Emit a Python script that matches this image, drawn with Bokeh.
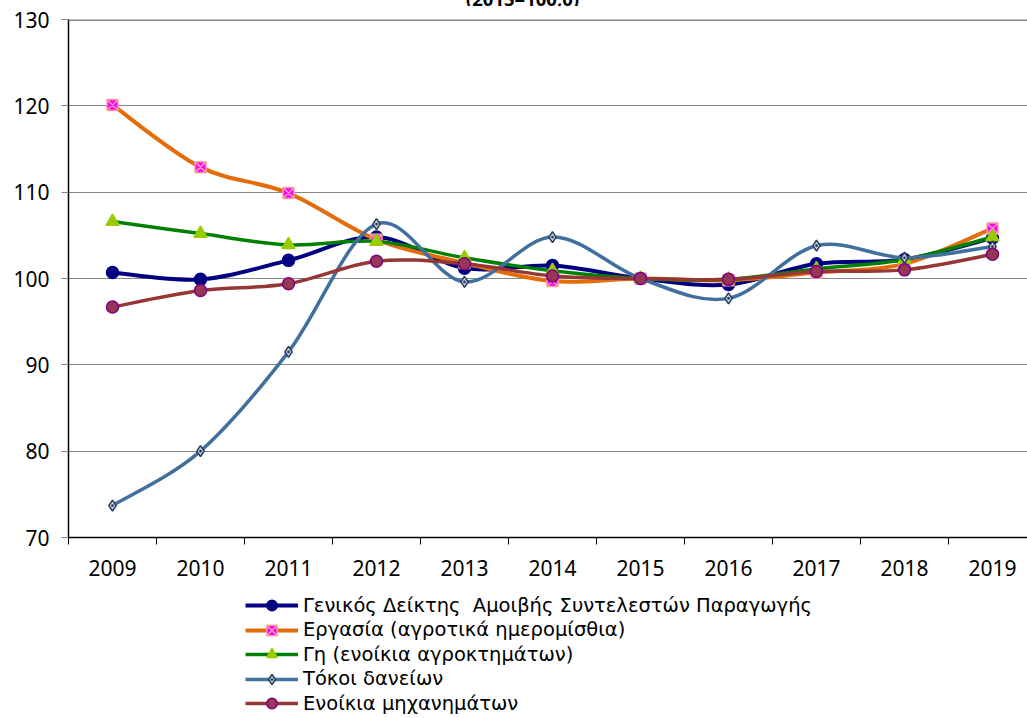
from bokeh.plotting import figure
from bokeh.layouts import column
from bokeh.models import FixedTicker, Legend, LegendItem, Range1d, Span, ColumnDataSource, Div
from bokeh.embed import file_html
from bokeh.resources import INLINE

# ---------------- data ----------------
years = [2009, 2010, 2011, 2012, 2013, 2014, 2015, 2016, 2017, 2018, 2019]
general = [100.7, 99.9, 102.1, 104.8, 101.2, 101.5, 100.0, 99.3, 101.7, 102.2, 104.7]
labour = [120.1, 112.9, 109.9, 104.5, 101.8, 99.7, 100.0, 99.8, 100.7, 101.7, 105.8]
land = [106.6, 105.2, 103.9, 104.3, 102.4, 100.9, 100.0, 99.9, 101.1, 102.2, 104.8]
interest = [73.7, 80.0, 91.5, 106.3, 99.6, 104.8, 100.0, 97.7, 103.8, 102.4, 103.7]
machinery = [96.7, 98.6, 99.4, 102.0, 101.7, 100.3, 100.0, 99.9, 100.8, 101.0, 102.8]
y_ticks = [70, 80, 90, 100, 110, 120, 130]
names = [
    "Γενικός Δείκτης  Αμοιβής Συντελεστών Παραγωγής",
    "Εργασία (αγροτικά ημερομίσθια)",
    "Γη (ενοίκια αγροκτημάτων)",
    "Τόκοι δανείων",
    "Ενοίκια μηχανημάτων",
]
title_tail = "(2015=100,0)"

FONT = "Noto Sans"
LEG_FONT = "DejaVu Sans"
W = 1027

# clipped tail of the title (only its lower part is visible in the original)
title_div = Div(
    text=(f'<div style="position:relative; top:-14px; width:{W}px; text-align:center; '
          f'padding-left:18px; box-sizing:border-box; font-family:\'{FONT}\'; '
          f'font-weight:bold; font-size:18.5px; color:black; white-space:nowrap;">{title_tail}</div>'),
    width=W, height=6, styles={"overflow": "hidden", "margin": "0", "padding": "0"})

p = figure(width=W, height=579, output_backend="svg", toolbar_location=None,
           x_range=Range1d(years[0] - 0.5, years[0] - 0.5 + (W - 68) / 88),
           y_range=Range1d(y_ticks[0], y_ticks[-1]),
           min_border_left=68, min_border_right=0, min_border_top=13, min_border_bottom=48)
p.outline_line_color = None
p.background_fill_color = "white"
p.xgrid.grid_line_color = None
p.ygrid.grid_line_color = "#868686"
p.ygrid.grid_line_width = 1
p.add_layout(Span(location=y_ticks[-1], dimension="width", line_color="#868686", line_width=3))

# axes
p.yaxis.ticker = FixedTicker(ticks=y_ticks, minor_ticks=[])
p.yaxis.major_tick_out = 7
p.yaxis.major_tick_in = 0
p.yaxis.major_tick_line_color = "#868686"
p.yaxis.major_label_standoff = 12
p.yaxis.axis_line_color = "black"
p.yaxis.axis_line_width = 1.5

p.xaxis.ticker = FixedTicker(ticks=years, minor_ticks=[y - 0.5 for y in years] + [years[-1] + 0.5])
p.xaxis.major_tick_out = 0
p.xaxis.major_tick_in = 0
p.xaxis.major_tick_line_color = None
p.xaxis.minor_tick_out = 7
p.xaxis.minor_tick_in = 0
p.xaxis.minor_tick_line_color = "black"
p.xaxis.major_label_standoff = 15
p.xaxis.axis_line_color = "black"
p.xaxis.axis_line_width = 1.5

for ax in (p.xaxis, p.yaxis):
    ax.major_label_text_font = FONT
    ax.major_label_text_font_size = "21px"
    ax.major_label_text_color = "black"


def smooth(xs, ys):
    """Bezier segments (Catmull-Rom style, like spreadsheet smoothed lines)."""
    n = len(xs)
    d = dict(x0=[], y0=[], x1=[], y1=[], cx0=[], cy0=[], cx1=[], cy1=[])
    for i in range(n - 1):
        im = max(i - 1, 0)
        ip = min(i + 2, n - 1)
        d["x0"].append(xs[i]); d["y0"].append(ys[i])
        d["x1"].append(xs[i + 1]); d["y1"].append(ys[i + 1])
        d["cx0"].append(xs[i] + (xs[i + 1] - xs[im]) / 6)
        d["cy0"].append(ys[i] + (ys[i + 1] - ys[im]) / 6)
        d["cx1"].append(xs[i + 1] - (xs[ip] - xs[i]) / 6)
        d["cy1"].append(ys[i + 1] - (ys[ip] - ys[i]) / 6)
    return ColumnDataSource(d)


styles = [
    # values, line colour, width, marker, size, fill, marker line
    (general, "#000080", 4, "circle", 12, "#000080", "#000080"),
    (labour, "#E46C0A", 4, "square_x", 11, "#FF00FF", "#F4A0A0"),
    (land, "#008000", 3.5, "triangle", 13, "#99CC00", "#99CC00"),
    (interest, "#41709F", 3.5, "diamond_dot", 11, "#D0D0D0", "#1F3864"),
    (machinery, "#953735", 3.5, "circle", 12, "#953755", "#800080"),
]

# legend lives in its own small figure under the chart; its renderers hold the
# series data but lie outside that figure's visible range, so only the legend shows
LG_H = 133
lg = figure(width=W, height=LG_H, output_backend="svg", toolbar_location=None,
            x_range=Range1d(0, 1), y_range=Range1d(0, 1),
            x_axis_location=None, y_axis_location=None,
            min_border_left=68, min_border_right=0, min_border_top=0, min_border_bottom=0)
lg.grid.visible = False
lg.outline_line_color = None

GLYPH_H = 26
for i, (name, (vals, lc, lw, mk, sz, fc, mlc)) in enumerate(zip(names, styles)):
    p.bezier(x0="x0", y0="y0", x1="x1", y1="y1", cx0="cx0", cy0="cy0", cx1="cx1", cy1="cy1",
             source=smooth(years, vals), line_color=lc, line_width=lw, line_cap="round")
    p.scatter(x=years, y=vals, marker=mk, size=sz, fill_color=fc, line_color=mlc, line_width=1.5)
    gl = lg.line(x=years, y=vals, line_color=lc, line_width=lw)
    gm = lg.scatter(x=years, y=vals, marker=mk, size=sz, fill_color=fc, line_color=mlc, line_width=1.5)
    row_center = 20 + 24.5 * i          # from the top of the legend strip
    leg = Legend(items=[LegendItem(label=name, renderers=[gl, gm])],
                 location=(245 - 68, LG_H - row_center - GLYPH_H / 2), orientation="vertical",
                 glyph_width=53, glyph_height=GLYPH_H, label_height=22, spacing=0,
                 padding=0, margin=0, label_standoff=5,
                 border_line_color=None, background_fill_alpha=0,
                 label_text_font=LEG_FONT, label_text_font_size="19.5px", label_text_color="black")
    lg.add_layout(leg, "center")

layout = column(title_div, p, lg, spacing=0)
open("out.html", "w").write(file_html(layout, INLINE))
